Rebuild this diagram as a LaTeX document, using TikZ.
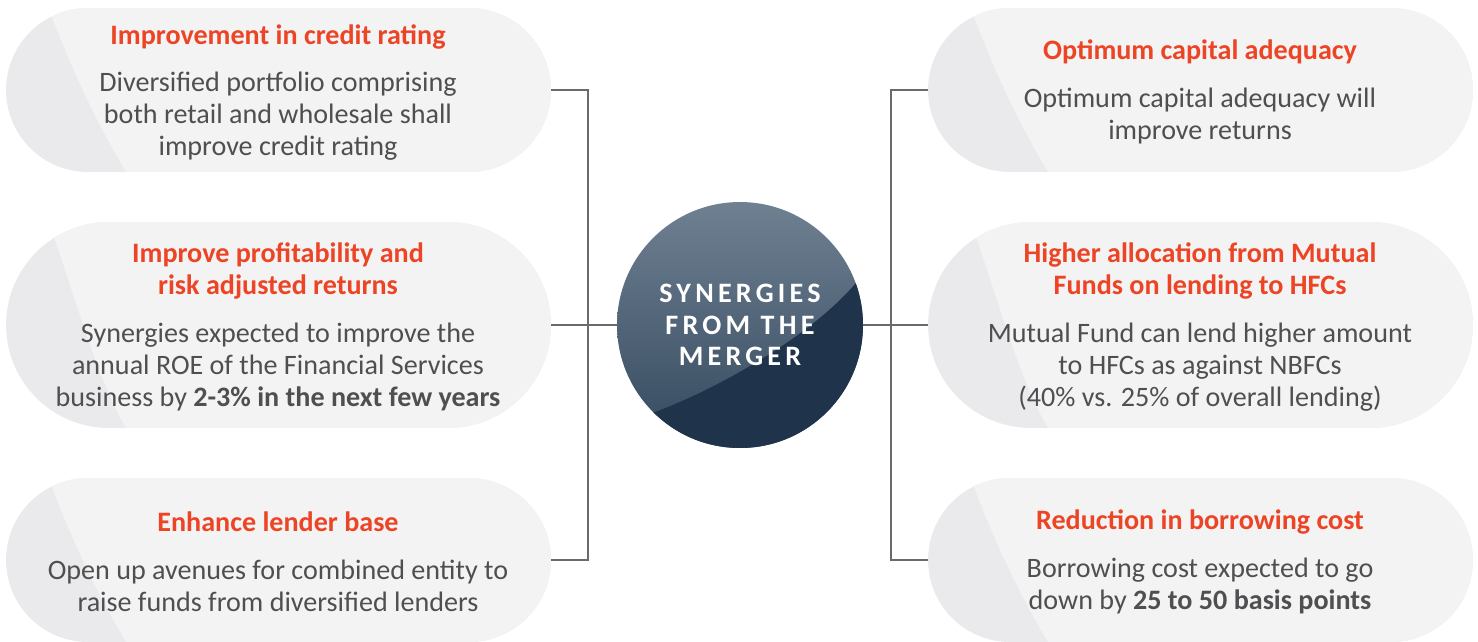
\documentclass[tikz,border=0pt]{standalone}
\usepackage{fontspec}
\setmainfont{Carlito}
\newfontfamily\hubfont{Carlito}[LetterSpace=15]
\usetikzlibrary{shapes.misc,positioning,calc}
\definecolor{accent}{HTML}{EC4425}
\definecolor{bodytext}{HTML}{4F4F51}
\definecolor{pillbase}{HTML}{EAEAEC}
\definecolor{pilllight}{HTML}{F3F3F4}
\definecolor{hubtop}{HTML}{6F8091}
\definecolor{hubbot}{HTML}{34495F}
\definecolor{hubdark}{HTML}{1F334A}
\definecolor{connector}{HTML}{6A6A6A}

\begin{document}
\begin{tikzpicture}[x=0.02cm, y=-0.02cm,
  pill/.style={rounded rectangle, minimum width=10.9cm, minimum height=#1, inner sep=0pt, fill=pillbase,
    path picture={\fill[pilllight] ([xshift=0.85cm]path picture bounding box.north west)
      .. controls ([xshift=1.3cm,yshift=-1.2cm]path picture bounding box.north west)
      and ([xshift=1.8cm,yshift=1.0cm]path picture bounding box.south west)
      .. ([xshift=2.4cm]path picture bounding box.south west)
      -- (path picture bounding box.south east) -- (path picture bounding box.north east) -- cycle;}},
  ttl/.style={align=center, text=accent, font=\fontsize{16}{18.1}\selectfont\bfseries},
  txt/.style={align=center, text=bodytext, font=\fontsize{16}{18.1}\selectfont},
  hub/.style={circle, minimum size=4.92cm, inner sep=0pt, top color=hubtop, bottom color=hubbot},
  hubtext/.style={text=white, align=center, font=\hubfont\fontsize{16}{18.1}\selectfont\bfseries},
  conn/.style={draw=connector, line width=0.9pt}
]
  \useasboundingbox (0,0) rectangle (1478,642);

  \node[pill=3.28cm] (p1) at (278.5,90)  {};
  \node[pill=4.12cm] (p2) at (278.5,325) {};
  \node[pill=3.28cm] (p3) at (278.5,560) {};
  \node[pill=3.28cm] (q1) at (1200.5,90)  {};
  \node[pill=4.12cm] (q2) at (1200.5,325) {};
  \node[pill=3.28cm] (q3) at (1200.5,560) {};

  \coordinate (jl) at (588,325);
  \coordinate (jr) at (891,325);

  \node[hub] (hub) at (740,325) {};
  % darker gloss on the lower right of the circle
  \begin{scope}
    \clip (hub.center) circle (123);
    \fill[hubdark] (620,418) -- (655,412) .. controls (715,390) and (815,335) .. (860,278)
      -- (880,240) -- (880,470) -- (600,470) -- cycle;
  \end{scope}
  \node[hubtext] (hubt) at (hub.center) {SYNERGIES\\FROM THE\\MERGER};

  \draw[conn] (p1.east) -| (jl) |- (p3.east);
  \draw[conn] (p2.east) -- (hub.west);
  \draw[conn] (q1.west) -| (jr) |- (q3.west);
  \draw[conn] (hub.east) -- (q2.west);

  \node[ttl] (t1) at (278,37)  {Improvement in credit rating};
  \node[txt] (d1) at (278,116) {Diversified portfolio comprising\\both retail and wholesale shall\\improve credit rating};
  \node[ttl] (t2) at (278,271) {Improve profitability and\\risk adjusted returns};
  \node[txt] (d2) at (278,367) {Synergies expected to improve the\\annual ROE of the Financial Services\\business by \textbf{2-3\% in the next few years}};
  \node[ttl] (t3) at (278,522) {Enhance lender base};
  \node[txt] (d3) at (278,586) {Open up avenues for combined entity to\\raise funds from diversified lenders};

  \node[ttl] (u1) at (1200,52)  {Optimum capital adequacy};
  \node[txt] (e1) at (1200,116) {Optimum capital adequacy will\\improve returns};
  \node[ttl] (u2) at (1200,271) {Higher allocation from Mutual\\Funds on lending to HFCs};
  \node[txt] (e2) at (1200,367) {Mutual Fund can lend higher amount\\to HFCs as against NBFCs\\(40\% vs. 25\% of overall lending)};
  \node[ttl] (u3) at (1200,522) {Reduction in borrowing cost};
  \node[txt] (e3) at (1200,586) {Borrowing cost expected to go\\down by \textbf{25 to 50 basis points}};
\end{tikzpicture}
\end{document}
